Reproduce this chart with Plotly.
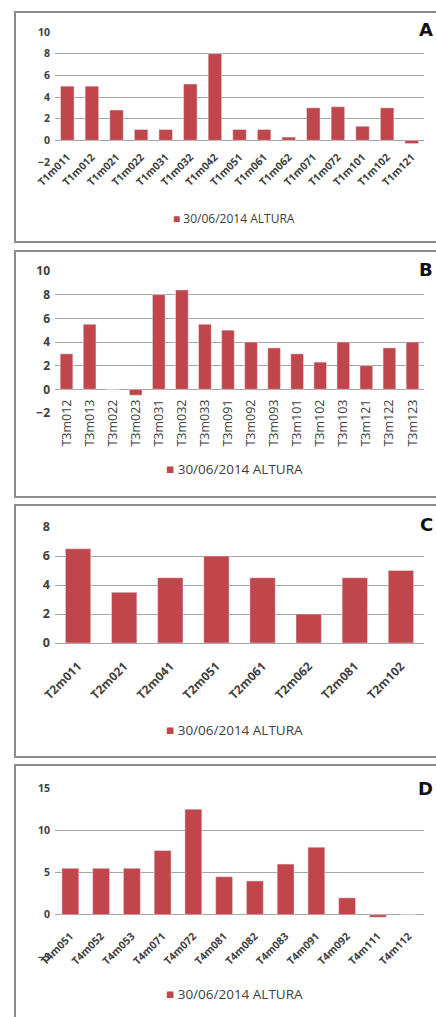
import plotly.graph_objects as go

W, H = 436, 1017

cats_a = ["T1m011", "T1m012", "T1m021", "T1m022", "T1m031", "T1m032", "T1m042", "T1m051",
          "T1m061", "T1m062", "T1m071", "T1m072", "T1m101", "T1m102", "T1m121"]
vals_a = [5, 5, 2.8, 1, 1, 5.2, 8, 1, 1, 0.3, 3, 3.1, 1.3, 3, -0.3]

cats_b = ["T3m012", "T3m013", "T3m022", "T3m023", "T3m031", "T3m032", "T3m033", "T3m091",
          "T3m092", "T3m093", "T3m101", "T3m102", "T3m103", "T3m121", "T3m122", "T3m123"]
vals_b = [3, 5.5, 0, -0.5, 8, 8.4, 5.5, 5, 4, 3.5, 3, 2.3, 4, 2, 3.5, 4]

cats_c = ["T2m011", "T2m021", "T2m041", "T2m051", "T2m061", "T2m062", "T2m081", "T2m102"]
vals_c = [6.5, 3.5, 4.5, 6, 4.5, 2, 4.5, 5]

cats_d = ["T4m051", "T4m052", "T4m053", "T4m071", "T4m072", "T4m081", "T4m082", "T4m083",
          "T4m091", "T4m092", "T4m111", "T4m112"]
vals_d = [5.5, 5.5, 5.5, 7.6, 12.5, 4.5, 4, 6, 8, 2, -0.3, 0]

series_name = "30/06/2014 ALTURA"
panel_letters = ["A", "B", "C", "D"]

BAR = "#C0464B"
TXT = "#404040"
GRID = "#A6A6A6"
FONT = "Open Sans"

def py(px):
    return 1 - px / H

# per panel: cats, vals, y-range, dtick, (top px of range, bottom px of range), px of zero,
# x tick angle, x tick size, x weight, x standoff, y tick size, y weight,
# box (top,bottom), legend y px, legend size, letter y px
panels = [
    (cats_a, vals_a, [-2, 10], 2, (32, 162), 140, -45, 10.5, "bold", 8, 10.5, "bold",
     (12, 242), 218, 12, 30),
    (cats_b, vals_b, [-2, 10], 2, (271, 413), 390, -90, 12.5, "normal", 6, 12, "bold",
     (251, 497), 469, 13.5, 269),
    (cats_c, vals_c, [0, 8], 2, (527, 643), 643, -45, 12, "bold", 13, 12.5, "bold",
     (505, 757), 730, 13.5, 524),
    (cats_d, vals_d, [-5, 15], 5, (788, 957), 914, -45, 10.5, "bold", 13, 10.5, "bold",
     (765, 1030), 994, 13.5, 788),
]

fig = go.Figure()
x0p, x1p = 55 / W, 424 / W

for i, (cats, vals, yr, dt, (tp, bp), zp, ang, xfs, xw, xso, yfs, yw,
        (bt, bb), ly, lfs, lty) in enumerate(panels):
    n = i + 1
    xa = "x" if n == 1 else f"x{n}"
    ya = "y" if n == 1 else f"y{n}"
    fig.add_trace(go.Bar(x=cats, y=vals, name=series_name, marker_color=BAR,
                         xaxis=xa, yaxis=ya, showlegend=False))
    xkey = "xaxis" if n == 1 else f"xaxis{n}"
    ykey = "yaxis" if n == 1 else f"yaxis{n}"
    fig.update_layout(**{
        xkey: dict(domain=[x0p, x1p], anchor="free", position=py(zp), tickangle=ang,
                   tickfont=dict(family=FONT, size=xfs, color=TXT, weight=xw),
                   ticklabelstandoff=xso,
                   showgrid=False, showline=False, ticks="", type="category",
                   automargin=False, fixedrange=True),
        ykey: dict(domain=[py(bp), py(tp)], anchor=xa, range=yr, dtick=dt,
                   tickfont=dict(family=FONT, size=yfs, color=TXT, weight=yw), ticklabelstandoff=4,
                   showgrid=True, gridcolor=GRID, gridwidth=1, zeroline=True,
                   zerolinecolor=GRID, zerolinewidth=1, showline=False, ticks="",
                   automargin=False, fixedrange=True),
    })
    fig.add_shape(type="rect", xref="paper", yref="paper",
                  x0=15 / W, x1=1.05, y0=py(bb), y1=py(bt),
                  line=dict(color="#8C8C8C", width=2), fillcolor="rgba(0,0,0,0)")
    fig.add_annotation(text=f'<span style="color:{BAR}">■</span> {series_name}',
                       xref="paper", yref="paper", x=234 / W, y=py(ly),
                       xanchor="center", yanchor="middle", showarrow=False,
                       font=dict(family=FONT, size=lfs, color=TXT))
    fig.add_annotation(text=f"<b>{panel_letters[i]}</b>", xref="paper", yref="paper",
                       x=434 / W, y=py(lty), xanchor="right", yanchor="middle",
                       showarrow=False, font=dict(family="DejaVu Sans", size=18, color="#111111"),
                       bgcolor="white", borderpad=0)

fig.update_layout(width=W, height=H, margin=dict(l=0, r=0, t=0, b=0, pad=0, autoexpand=False),
                  plot_bgcolor="white", paper_bgcolor="white", bargap=0.45)

fig.write_html("out.html", config={"displayModeBar": False},
               post_script="document.body.style.margin='0';document.body.style.overflow='hidden';")
